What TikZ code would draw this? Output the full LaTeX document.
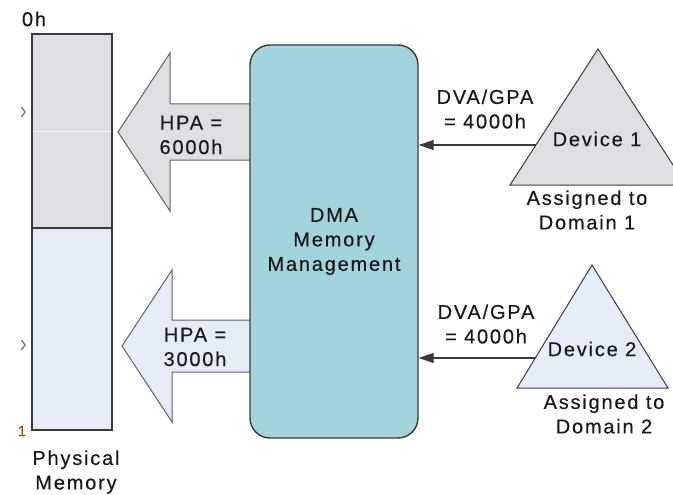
\documentclass[tikz,border=0pt]{standalone}
\usepackage{fontspec}
\setmainfont{Liberation Sans}[LetterSpace=9, FakeBold=0.4]
\usetikzlibrary{arrows.meta,calc}

\definecolor{txt}{HTML}{18181F}
\definecolor{memgray}{HTML}{DEDFE3}
\definecolor{memblue}{HTML}{E6ECF7}
\definecolor{dmateal}{HTML}{A4D4DB}
\definecolor{edge}{HTML}{3A3A3A}

\begin{document}
\begin{tikzpicture}[x=1pt,y=-1pt,
  lbl/.style={font=\fontsize{20}{24.5}\selectfont, text=txt, align=center, inner sep=0pt},
  membox/.style={draw=edge, line width=2.6pt, minimum width=80pt, inner sep=0pt},
  bigarrow/.style={draw=edge!80, line width=1pt, line join=miter},
  device/.style={draw=edge, line width=1pt, line join=miter},
  feed/.style={draw=edge, line width=1.1pt, -{Triangle[length=15pt,width=10pt]}},
  tick/.style={draw=gray!90!black, line width=1.3pt}]
\useasboundingbox (0,0) rectangle (673,495);
\clip (0,0) rectangle (673,495);

% physical memory column
\node[membox, fill=memgray, minimum height=194pt] (memtop) at (72,131) {};
\node[membox, fill=memblue, minimum height=202pt] (membot) at (72,329) {};
\draw[white!60!memgray, line width=0.6pt] (33.5,131.5) -- (110.5,131.5);
\node[lbl] (zero) at (34,19) {0h};
\node[lbl] (physmem) at (76,472) {Physical\\Memory};

% clipped edge marks on the left
\draw[tick] (21.5,107) -- (25,112) -- (21.5,117);
\draw[tick] (21.5,340) -- (25,345) -- (21.5,350);
\node[lbl, font=\fontsize{15}{15}\selectfont, text=orange!60!black] (endmark) at (22,431) {1};

% translated host addresses
\draw[bigarrow, fill=memgray] (252,104) -- (170,104) -- (170,53) -- (118,132)
  -- (170,211) -- (170,160) -- (252,160);
\node[lbl] (hpa1) at (191,135) {HPA =\\6000h};
\draw[bigarrow, fill=memblue] (252,320) -- (172,320) -- (172,270) -- (122,346)
  -- (172,422) -- (172,372) -- (252,372);
\node[lbl] (hpa2) at (195,347) {HPA =\\3000h};

% remapping unit
\node[draw=edge, line width=1.4pt, fill=dmateal, rounded corners=20pt,
  minimum width=168pt, minimum height=393pt, lbl] (dma) at (334,241.5)
  {DMA\\Memory\\Management};

% device 1
\coordinate (d1top) at (598,49);
\coordinate (d1left) at (510,185);
\coordinate (d1right) at (686,185);
\draw[device, fill=memgray] (d1top) -- (d1left) -- (d1right) -- cycle;
\node[lbl] (dev1) at (597,139) {Device 1};
\node[lbl] (dom1) at (587,210) {Assigned to\\Domain 1};
\coordinate (d1in) at ($(d1top)!0.706!(d1left)$);
\draw[feed] (d1in) -- (dma.east |- d1in);
\node[lbl] (gpa1) at (485,109) {DVA/GPA\\= 4000h};

% device 2
\coordinate (d2top) at (592,265);
\coordinate (d2left) at (517,388);
\coordinate (d2right) at (668,388);
\draw[device, fill=memblue] (d2top) -- (d2left) -- (d2right) -- cycle;
\node[lbl] (dev2) at (592,349) {Device 2};
\node[lbl] (dom2) at (604,414) {Assigned to\\Domain 2};
\coordinate (d2in) at ($(d2top)!0.756!(d2left)$);
\draw[feed] (d2in) -- (dma.east |- d2in);
\node[lbl] (gpa2) at (486,324) {DVA/GPA\\= 4000h};
\end{tikzpicture}
\end{document}
